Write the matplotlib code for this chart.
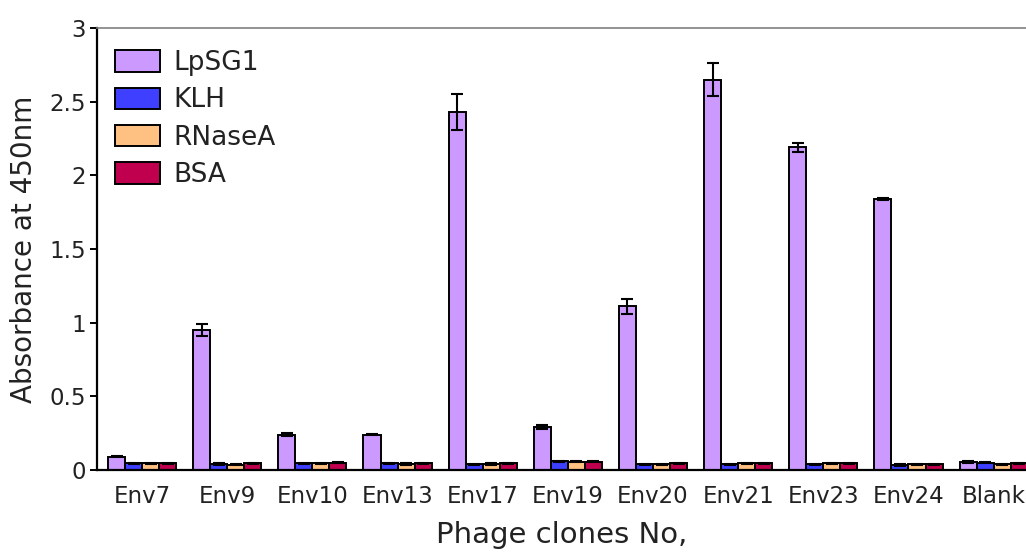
import matplotlib.pyplot as plt
import numpy as np

plt.rcParams["font.family"] = ["DejaVu Sans"]

clones = ["Env7", "Env9", "Env10", "Env13", "Env17", "Env19",
          "Env20", "Env21", "Env23", "Env24", "Blank"]
series = ["LpSG1", "KLH", "RNaseA", "BSA"]
colors = ["#CC99FF", "#3F3FFF", "#FFC182", "#C0004E"]

lpsg1 = [0.09, 0.95, 0.24, 0.24, 2.43, 0.29, 1.11, 2.65, 2.19, 1.84, 0.055]
klh = [0.045, 0.04, 0.045, 0.045, 0.04, 0.06, 0.04, 0.04, 0.04, 0.035, 0.05]
rnasea = [0.045, 0.035, 0.045, 0.04, 0.04, 0.055, 0.04, 0.045, 0.045, 0.04, 0.04]
bsa = [0.045, 0.045, 0.05, 0.045, 0.045, 0.055, 0.045, 0.045, 0.045, 0.04, 0.045]

lpsg1_err = [0.005, 0.04, 0.008, 0.005, 0.12, 0.015, 0.05, 0.11, 0.03, 0.005, 0.008]
klh_err = [0.004, 0.008, 0.003, 0.003, 0.003, 0.004, 0.003, 0.003, 0.003, 0.006, 0.003]
rnasea_err = [0.003, 0.003, 0.003, 0.005, 0.005, 0.003, 0.003, 0.004, 0.005, 0.003, 0.003]
bsa_err = [0.003, 0.003, 0.004, 0.003, 0.003, 0.003, 0.004, 0.004, 0.004, 0.003, 0.005]

values = [lpsg1, klh, rnasea, bsa]
errors = [lpsg1_err, klh_err, rnasea_err, bsa_err]

fig = plt.figure(figsize=(10.26, 5.52), dpi=100)
ax = fig.add_axes([0.0945, 0.1486, 0.9055, 0.8007])

x = np.arange(len(clones))
width = 0.2
for i, (name, vals, errs, col) in enumerate(zip(series, values, errors, colors)):
    ax.bar(x + (i - 1.5) * width, vals, width, color=col, edgecolor="black",
           linewidth=1.4, label=name, yerr=errs, capsize=4.5,
           error_kw=dict(elinewidth=1.5, capthick=1.5, ecolor="black"))

ax.set_xlim(-0.53, 10.38)
ax.set_ylim(0, 3)
ax.set_yticks([0, 0.5, 1, 1.5, 2, 2.5, 3])
ax.set_yticklabels(["0", "0.5", "1", "1.5", "2", "2.5", "3"])
ax.set_xticks(x)
ax.set_xticklabels(clones)
ax.tick_params(axis="x", length=0, labelsize=16.5, pad=10.5, labelcolor="#222222")
ax.tick_params(axis="y", length=5, width=1.4, labelsize=16.5, pad=3,
               labelcolor="#222222")

ax.spines["right"].set_visible(False)
ax.spines["top"].set_color("#808080")
ax.spines["top"].set_linewidth(1.2)
ax.spines["left"].set_linewidth(1.6)
ax.spines["bottom"].set_linewidth(1.6)

ax.set_ylabel("Absorbance at 450nm", fontsize=20, labelpad=8, color="#222222")
ax.set_xlabel("Phage clones No,", fontsize=21, labelpad=10, color="#222222")

ax.legend(loc="upper left", bbox_to_anchor=(0.0194, 0.95), frameon=False,
          fontsize=19, handlelength=1.7, handleheight=0.87, labelspacing=0.43,
          handletextpad=0.5, borderpad=0, borderaxespad=0,
          labelcolor="#222222")

fig.savefig("out.png", dpi=100)
